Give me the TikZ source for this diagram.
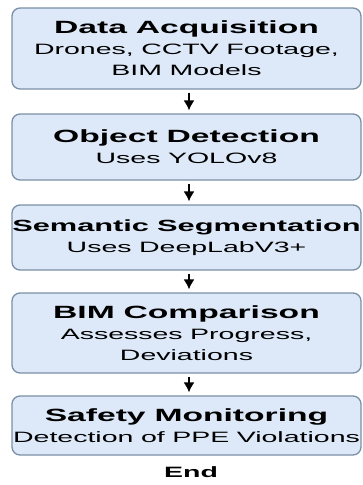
\documentclass[tikz,border=0pt]{standalone}
\usepackage{fontspec}
\setmainfont{Liberation Sans}[FakeStretch=1.9]
\usetikzlibrary{arrows.meta}

\definecolor{stagefill}{HTML}{DDE9F8}
\definecolor{stageline}{HTML}{7A8FA6}

\newcommand{\stagetitle}[2][17.7]{{\fontsize{#1}{21}\selectfont\bfseries\spaceskip=0.5em\relax\makebox[\linewidth]{#2}}}

\begin{document}
\begin{tikzpicture}[x=1pt, y=-1pt,
	stage/.style={draw=stageline, fill=stagefill, line width=1.3pt, rounded corners=8pt,
		minimum width=349pt, text width=349pt, inner xsep=0pt, inner ysep=0pt, align=center,
		font=\fontsize{15}{21}\selectfont, execute at begin node={\spaceskip=0.5em\relax}},
	flow/.style={-{Latex[length=10pt, width=11pt]}, line width=1.5pt, black}]

	\useasboundingbox (0,0) rectangle (362,485);

	\node[stage, minimum height=81pt] (acq) at (186.5, 48.5) {\stagetitle{Data Acquisition}\\ Drones, CCTV Footage,\\ BIM Models};
	\node[stage, minimum height=66pt] (det) at (186.5, 147) {\stagetitle{Object Detection}\\ Uses YOLOv8};
	\node[stage, minimum height=65pt] (seg) at (186.5, 237.5) {\stagetitle[16.2]{Semantic Segmentation}\\ Uses DeepLabV3+};
	\node[stage, minimum height=80pt] (bim) at (186.5, 333) {\stagetitle{BIM Comparison}\\ Assesses Progress,\\ Deviations};
	\node[stage, minimum height=59pt] (saf) at (186.5, 425.5) {\stagetitle{Safety Monitoring}\\ Detection of PPE Violations};

	\node[font=\fontsize{15}{17}\selectfont\bfseries] (end) at (191, 472) {End};

	% Draw the arrows between the stages
	\draw[flow, shorten <=3pt, shorten >=3pt] ([xshift=2.5pt]acq.south) -- ([xshift=2.5pt]det.north);
	\draw[flow, shorten <=3pt, shorten >=3pt] ([xshift=2.5pt]det.south) -- ([xshift=2.5pt]seg.north);
	\draw[flow, shorten <=3pt, shorten >=3pt] ([xshift=2.5pt]seg.south) -- ([xshift=2.5pt]bim.north);
	\draw[flow, shorten <=3pt, shorten >=3pt] ([xshift=2.5pt]bim.south) -- ([xshift=2.5pt]saf.north);
\end{tikzpicture}
\end{document}
